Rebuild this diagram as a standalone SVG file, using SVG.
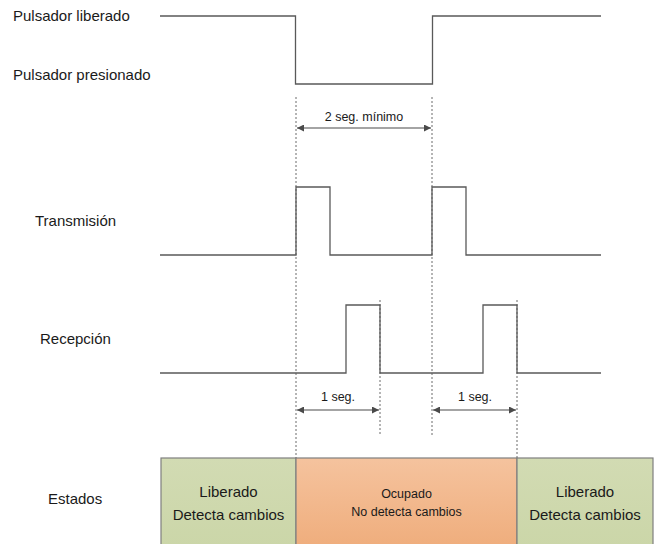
<svg xmlns="http://www.w3.org/2000/svg" width="661" height="544" viewBox="0 0 661 544">
<defs>
<style>
.sig{fill:none;stroke:#595959;stroke-width:1.3}
.dash{fill:none;stroke:#6b6b6b;stroke-width:1;stroke-dasharray:2,2}
.dim{fill:none;stroke:#4a4a4a;stroke-width:1.2;marker-start:url(#ah);marker-end:url(#ah)}
.lbl{font-family:"Liberation Sans",Arial,sans-serif;font-size:15px;fill:#1a1a1a}
.sm{font-family:"Liberation Sans",Arial,sans-serif;font-size:12.5px;fill:#1a1a1a}
.box{stroke:#7f7f7f;stroke-width:1.2}
</style>
<marker id="ah" viewBox="0 0 10 10" refX="10" refY="5" markerWidth="10" markerHeight="7" markerUnits="userSpaceOnUse" orient="auto-start-reverse">
<path d="M0,0 L10,5 L0,10 Z" fill="#4a4a4a"/>
</marker>
<linearGradient id="og" x1="0" y1="0" x2="0" y2="1">
<stop offset="0" stop-color="#f5c39e"/>
<stop offset="1" stop-color="#efad7c"/>
</linearGradient>
<linearGradient id="gg" x1="0" y1="0" x2="0" y2="1">
<stop offset="0" stop-color="#d2dbb3"/>
<stop offset="1" stop-color="#cbd6a8"/>
</linearGradient>
</defs>
<g id="labels">
<text class="lbl" x="13" y="21">Pulsador liberado</text>
<text class="lbl" x="13" y="80">Pulsador presionado</text>
<text class="lbl" x="35" y="226">Transmisión</text>
<text class="lbl" x="40" y="344">Recepción</text>
<text class="lbl" x="48" y="504">Estados</text>
</g>
<g id="connectors">
<path class="dash" d="M296,97 V458 M432,97 V436 M380,300 V434 M517,300 V458"/>
<path class="sig" d="M160,16 H295.5 V84 H432.5 V16 H601"/>
<path class="sig" d="M160,255 H296 V187 H330 V255 H432 V187 H466 V255 H601"/>
<path class="sig" d="M160,373 H346 V305 H380 V373 H483 V305 H517 V373 H601"/>
<line class="dim" x1="297" y1="128" x2="431" y2="128"/>
<line class="dim" x1="297" y1="410" x2="379" y2="410"/>
<line class="dim" x1="433" y1="410" x2="516" y2="410"/>
<text class="sm" x="364" y="121" text-anchor="middle">2 seg. mínimo</text>
<text class="sm" x="338" y="401" text-anchor="middle">1 seg.</text>
<text class="sm" x="475" y="401" text-anchor="middle">1 seg.</text>
</g>
<g id="estado1">
<rect class="box" x="161" y="458" width="135" height="90" fill="url(#gg)"/>
<text class="lbl" x="228.5" y="497" text-anchor="middle">Liberado</text>
<text class="lbl" x="228.5" y="520" text-anchor="middle">Detecta cambios</text>
</g>
<g id="estado2">
<rect class="box" x="296" y="458" width="221" height="90" fill="url(#og)"/>
<text class="sm" x="406.5" y="498" text-anchor="middle">Ocupado</text>
<text class="sm" x="406.5" y="516" text-anchor="middle">No detecta cambios</text>
</g>
<g id="estado3">
<rect class="box" x="517" y="458" width="136" height="90" fill="url(#gg)"/>
<text class="lbl" x="585" y="497" text-anchor="middle">Liberado</text>
<text class="lbl" x="585" y="520" text-anchor="middle">Detecta cambios</text>
</g>
</svg>
